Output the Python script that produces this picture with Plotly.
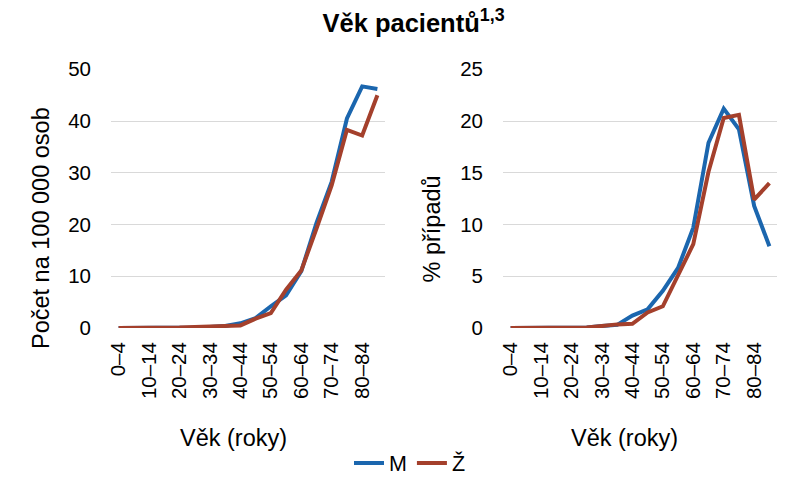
import plotly.graph_objects as go

categories = ["0–4", "5–9", "10–14", "15–19", "20–24", "25–29", "30–34", "35–39",
              "40–44", "45–49", "50–54", "55–59", "60–64", "65–69", "70–74",
              "75–79", "80–84", "85+"]
tick_labels = ["0–4", "10–14", "20–24", "30–34", "40–44", "50–54", "60–64", "70–74", "80–84"]

rate_m = [0, 0, 0, 0, 0, 0.1, 0.2, 0.4, 0.9, 1.9, 4.2, 6.3, 11.0, 20.3, 28.3, 40.5, 46.7, 46.2]
rate_f = [0, 0, 0, 0, 0.1, 0.2, 0.3, 0.4, 0.5, 1.8, 2.9, 7.4, 11.1, 19.2, 27.6, 38.3, 37.2, 45.0]

pct_m = [0, 0, 0, 0, 0, 0.05, 0.2, 0.3, 1.2, 1.8, 3.6, 5.8, 9.7, 17.9, 21.2, 19.2, 11.8, 7.9]
pct_f = [0, 0, 0, 0, 0, 0.05, 0.2, 0.35, 0.4, 1.5, 2.1, 5.0, 8.1, 15.1, 20.3, 20.6, 12.4, 14.0]

title_text = "<b>Věk pacientů<sup>1,3</sup></b>"
x_title = "Věk (roky)"
y_title_left = "Počet na 100 000 osob"
y_title_right = "% případů"

BLUE = "#1B66AE"
RED = "#A4402C"
FONT = "Liberation Sans, Arial, sans-serif"

fig = go.Figure()
fig.add_trace(go.Scatter(x=categories, y=rate_m, name="M", mode="lines",
                         line=dict(color=BLUE, width=4), xaxis="x", yaxis="y"))
fig.add_trace(go.Scatter(x=categories, y=rate_f, name="Ž", mode="lines",
                         line=dict(color=RED, width=4), xaxis="x", yaxis="y"))
fig.add_trace(go.Scatter(x=categories, y=pct_m, name="M", mode="lines", showlegend=False,
                         line=dict(color=BLUE, width=4), xaxis="x2", yaxis="y2"))
fig.add_trace(go.Scatter(x=categories, y=pct_f, name="Ž", mode="lines", showlegend=False,
                         line=dict(color=RED, width=4), xaxis="x2", yaxis="y2"))

W, H = 808, 478


def px_x(x):
    return x / W


def px_y(y):
    return 1 - y / H


ydom = [px_y(328), px_y(69.3)]

xcommon = dict(type="category", categoryorder="array", categoryarray=categories,
               range=[-0.5, 17.5], tickmode="array", tickvals=tick_labels,
               tickangle=-90, tickfont=dict(size=20.5, color="#000000"),
               showgrid=False, showline=False, zeroline=False, ticks="",
               automargin=False, ticklabelstandoff=9)
ycommon = dict(showgrid=True, gridcolor="#D9D9D9", gridwidth=1.3, zeroline=False,
               showline=False, ticks="", tickfont=dict(size=20.5, color="#000000"),
               automargin=False, ticklabelstandoff=19)

ann_font = dict(size=23.5, color="#000000", family=FONT)
annotations = [
    dict(text=x_title, x=px_x(234), y=px_y(438), xref="paper", yref="paper",
         xanchor="center", yanchor="middle", showarrow=False, font=ann_font),
    dict(text=x_title, x=px_x(624), y=px_y(438), xref="paper", yref="paper",
         xanchor="center", yanchor="middle", showarrow=False, font=ann_font),
    dict(text=y_title_left, x=px_x(41), y=px_y(228), xref="paper", yref="paper",
         xanchor="center", yanchor="middle", showarrow=False, textangle=-90, font=ann_font),
    dict(text=y_title_right, x=px_x(431), y=px_y(229.5), xref="paper", yref="paper",
         xanchor="center", yanchor="middle", showarrow=False, textangle=-90, font=ann_font),
]

fig.update_layout(
    width=W, height=H,
    margin=dict(l=0, r=0, t=0, b=0, autoexpand=False),
    paper_bgcolor="white", plot_bgcolor="white",
    font=dict(family=FONT, color="#000000"),
    title=dict(text=title_text, x=px_x(413.5), xanchor="center",
               y=px_y(23), yanchor="middle", font=dict(size=25.5, color="#000000")),
    xaxis=dict(domain=[px_x(111), px_x(385)], anchor="y", **xcommon),
    xaxis2=dict(domain=[px_x(503), px_x(777)], anchor="y2", **xcommon),
    yaxis=dict(domain=ydom, anchor="x", range=[0, 50], dtick=10, **ycommon),
    yaxis2=dict(domain=ydom, anchor="x2", range=[0, 25], dtick=5, **ycommon),
    legend=dict(orientation="h", x=px_x(410), xanchor="center", y=px_y(463), yanchor="middle",
                font=dict(size=21.5, color="#000000"), bgcolor="rgba(0,0,0,0)"),
    annotations=annotations,
    showlegend=True,
)

# remove the default page margin and inline-block gap so the figure fills the window exactly
page_css = (
    "document.documentElement.style.margin='0';"
    "document.documentElement.style.overflow='hidden';"
    "document.body.style.margin='0';"
    "document.body.style.overflow='hidden';"
    "document.querySelectorAll('.plotly-graph-div').forEach(function(d){"
    "d.style.lineHeight='0';d.style.fontSize='0';"
    "if(d.parentElement){d.parentElement.style.lineHeight='0';}});"
    "document.querySelectorAll('.svg-container').forEach(function(s){"
    "s.style.display='block';});"
)

fig.write_html("out.html", post_script=page_css, config={"displayModeBar": False})
